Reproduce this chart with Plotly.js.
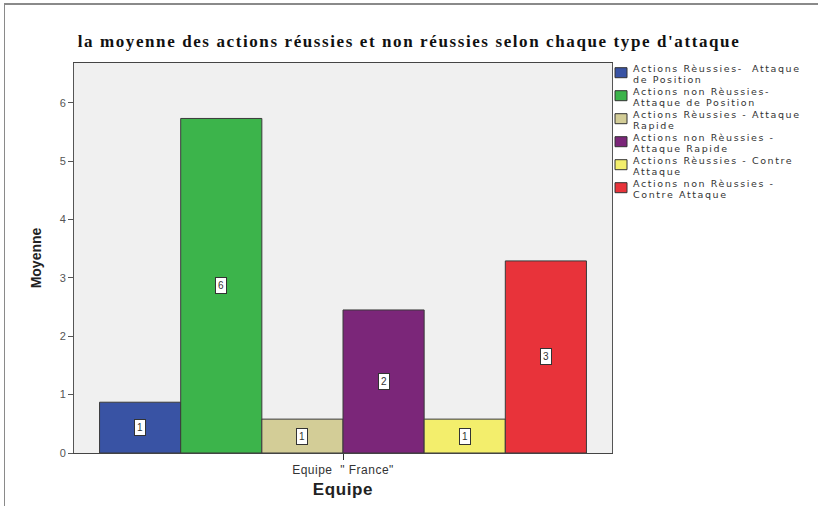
<!DOCTYPE html>
<html>
<head>
<meta charset="utf-8">
<script src="https://cdn.plot.ly/plotly-3.0.1.min.js"></script>
<style>
  html, body { margin: 0; padding: 0; background: #ffffff; }
  #chart { width: 818px; height: 506px; }
  #frameTop { position: absolute; left: 4px; top: 3px; width: 814px; height: 2px; background: #8a8a8a; }
  #frameLeft { position: absolute; left: 4px; top: 3px; width: 1px; height: 503px; background: #8a8a8a; }
  .gtitle { letter-spacing: 1.6px; }
  .xtick text { letter-spacing: 0.5px; }
  .xtitle { letter-spacing: 0.6px; }
</style>
</head>
<body>
<div id="chart"></div>
<div id="frameTop"></div>
<div id="frameLeft"></div>
<script>
const category = 'Equipe  " France"';
const seriesNames = [
  'Actions Rèussies-  Attaque<br>de Position',
  'Actions non Rèussies-<br>Attaque de Position',
  'Actions Rèussies - Attaque<br>Rapide',
  'Actions non Rèussies -<br>Attaque Rapide',
  'Actions Rèussies - Contre<br>Attaque',
  'Actions non Rèussies -<br>Contre Attaque'
];
const seriesValues = [0.87, 5.73, 0.58, 2.45, 0.58, 3.29];
const seriesColors = ['#3953a4', '#3cb44b', '#d3cd97', '#7b2679', '#f3ee6c', '#e8333a'];

const bargap = 0.095;
const n = seriesValues.length;

// plot-area geometry (px) used to place the custom legend in paper units
const M = { l: 74, r: 206, t: 63, b: 53 };
const W = 818, H = 506;
const plotW = W - M.l - M.r, plotH = H - M.t - M.b;
const pxX = px => (px - M.l) / plotW;
const pxY = py => (H - M.b - py) / plotH;

const traces = seriesValues.map((v, i) => ({
  type: 'bar',
  name: seriesNames[i].replace('<br>', ' '),
  x: [category],
  y: [v],
  marker: { color: seriesColors[i], line: { color: '#3a3a3a', width: 1 } },
  hoverinfo: 'skip',
  showlegend: false
}));

const annotations = seriesValues.map((v, i) => ({
  xref: 'x', yref: 'y',
  x: -0.5 + bargap / 2 + (i + 0.5) * (1 - bargap) / n,
  y: v / 2,
  text: String(Math.round(v)),
  showarrow: false,
  bgcolor: '#ffffff',
  bordercolor: '#333333',
  borderwidth: 1,
  borderpad: 2,
  font: { family: 'Liberation Sans, Arial, sans-serif', size: 10, color: '#333' }
}));

// custom compact legend (square + two text lines per series)
const shapes = [];
seriesNames.forEach((name, i) => {
  const c = 72.7 + 23 * i;
  shapes.push({
    type: 'rect', xref: 'paper', yref: 'paper',
    x0: pxX(615), x1: pxX(627), y0: pxY(c + 5), y1: pxY(c - 5),
    fillcolor: seriesColors[i], line: { color: '#333', width: 1 }
  });
  name.split('<br>').forEach((line, j) => {
    annotations.push({
      xref: 'paper', yref: 'paper',
      x: pxX(632), y: pxY(c - 4.3 + 11.5 * j),
      xanchor: 'left', yanchor: 'middle', align: 'left',
      text: '<span style="letter-spacing:1.6px">' + line + '</span>',
      showarrow: false, borderpad: 0,
      font: { family: 'DejaVu Sans, sans-serif', size: 9.5, color: '#333' }
    });
  });
});

const layout = {
  width: W, height: H,
  margin: M,
  paper_bgcolor: 'rgba(0,0,0,0)',
  plot_bgcolor: '#f0f0f0',
  barmode: 'group',
  bargap: bargap,
  bargroupgap: 0,
  showlegend: false,
  title: {
    text: "la moyenne des actions réussies et non réussies selon chaque type d'attaque",
    font: { family: 'Liberation Serif, Times New Roman, serif', size: 17, color: '#111', weight: 'bold' },
    x: 0.5, xref: 'container', y: 0.93, yref: 'container', xanchor: 'center'
  },
  xaxis: {
    type: 'category',
    range: [-0.5, 0.5],
    showline: true, linecolor: '#444', linewidth: 1, mirror: true,
    ticks: 'outside', ticklen: 6, tickcolor: '#333',
    tickfont: { family: 'Liberation Sans, Arial, sans-serif', size: 12, color: '#333' },
    title: { text: '<b>Equipe</b>', font: { family: 'Liberation Sans, Arial, sans-serif', size: 17, color: '#222' }, standoff: 6 },
    fixedrange: true
  },
  yaxis: {
    range: [0, 6.68],
    dtick: 1, tick0: 0,
    showgrid: false, zeroline: false,
    showline: true, linecolor: '#555', linewidth: 1, mirror: true,
    ticks: 'outside', ticklen: 5, tickcolor: '#555',
    tickfont: { family: 'Liberation Sans, Arial, sans-serif', size: 11, color: '#555' },
    title: { text: '<b>Moyenne</b>', font: { family: 'Liberation Sans, Arial, sans-serif', size: 14, color: '#222' }, standoff: 14 },
    fixedrange: true
  },
  annotations: annotations,
  shapes: shapes
};

Plotly.newPlot('chart', traces, layout, { displayModeBar: false, staticPlot: true });
</script>
</body>
</html>
